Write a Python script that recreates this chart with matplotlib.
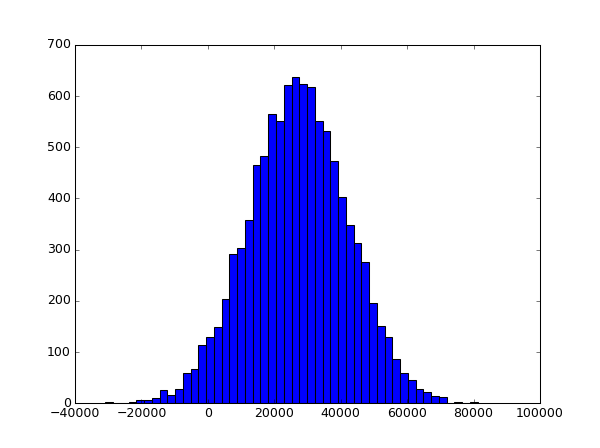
import numpy as np
import matplotlib
matplotlib.use("Agg")
import matplotlib.pyplot as plt

plt.style.use('classic')

# histogram counts (48 bins)
counts = [3, 0, 0, 3, 7, 7, 10, 26, 16, 28,
          59, 66, 114, 130, 148, 204, 292, 303, 357, 465,
          483, 564, 552, 621, 637, 623, 618, 552, 532, 473,
          402, 348, 312, 275, 195, 150, 129, 87, 59, 45,
          28, 22, 15, 13, 0, 2, 0, 3]
x_min = -30880
x_max = 81250

edges = np.linspace(x_min, x_max, len(counts) + 1)
centers = (edges[:-1] + edges[1:]) / 2

fig = plt.figure(figsize=(8, 448 / 75), dpi=75, facecolor='w')
ax = fig.add_subplot(111)
ax.hist(centers, bins=edges, weights=counts, color='b', edgecolor='k')
ax.set_xlim(-40000, 100000)
ax.set_ylim(0, 700)

fig.savefig('out.png', dpi=75, facecolor='w')
